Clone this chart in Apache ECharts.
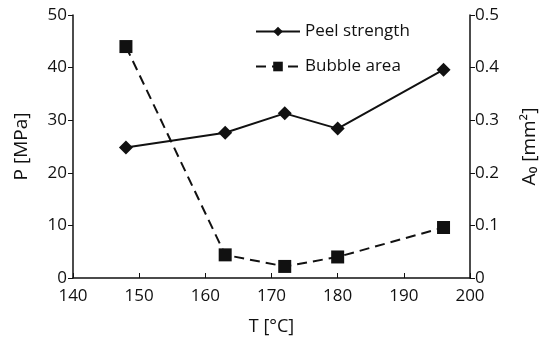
<!DOCTYPE html>
<html>
<head>
<meta charset="utf-8">
<script src="https://cdn.jsdelivr.net/npm/echarts@6/dist/echarts.min.js"></script>
<style>
  html, body { margin: 0; padding: 0; background: #fff; }
  #chart { width: 547px; height: 343px; }
</style>
</head>
<body>
<div id="chart"></div>
<script>
// temperature T [°C]
const temps = [148, 163, 172, 180, 196]
// peel strength P [MPa]
const peelStrength = [24.8, 27.6, 31.3, 28.4, 39.6]
// bubble area A0 [mm2]
const bubbleArea = [0.44, 0.044, 0.022, 0.04, 0.096]

const fontName = 'Open Sans'

const chart = echarts.init(document.getElementById('chart'))
const option = {
  backgroundColor: '#fff',
  animation: false,
  textStyle: { fontFamily: fontName, color: '#111' },
  legend: {
    orient: 'vertical',
    left: 250,
    top: 18,
    itemWidth: 44,
    itemHeight: 12,
    itemGap: 18,
    textStyle: { fontSize: 17, color: '#111', fontFamily: fontName },
    data: ['Peel strength', 'Bubble area']
  },
  grid: { left: 73, right: 77, top: 15, bottom: 65 },
  xAxis: {
    type: 'value',
    min: 140,
    max: 200,
    interval: 10,
    name: 'T [°C]',
    nameLocation: 'middle',
    nameGap: 40,
    nameTextStyle: { fontSize: 18, color: '#111' },
    axisLine: { lineStyle: { color: '#111', width: 1.5 } },
    axisTick: { inside: true, length: 5, lineStyle: { color: '#111' } },
    axisLabel: { fontSize: 17, color: '#111', margin: 10 },
    splitLine: { show: false }
  },
  yAxis: [
    {
      type: 'value',
      min: 0,
      max: 50,
      interval: 10,
      name: 'P [MPa]',
      nameLocation: 'middle',
      nameGap: 42,
      nameTextStyle: { fontSize: 19, color: '#111' },
      axisLine: { show: true, lineStyle: { color: '#111', width: 1.5 } },
      axisTick: { show: true, length: 5, lineStyle: { color: '#111' } },
      axisLabel: { fontSize: 17, color: '#111', margin: 6 },
      splitLine: { show: false }
    },
    {
      type: 'value',
      min: 0,
      max: 0.5,
      interval: 0.1,
      position: 'right',
      name: 'A₀ [mm²]',
      nameLocation: 'middle',
      nameRotate: 90,
      nameGap: 50,
      nameTextStyle: { fontSize: 19, color: '#111' },
      axisLine: { show: true, lineStyle: { color: '#111', width: 1.5 } },
      axisTick: { show: true, length: 5, lineStyle: { color: '#111' } },
      axisLabel: { fontSize: 17, color: '#111', margin: 5 },
      splitLine: { show: false }
    }
  ],
  series: [
    {
      name: 'Peel strength',
      type: 'line',
      yAxisIndex: 0,
      data: temps.map((t, i) => [t, peelStrength[i]]),
      symbol: 'diamond',
      symbolSize: 14,
      itemStyle: { color: '#111' },
      lineStyle: { color: '#111', width: 2 }
    },
    {
      name: 'Bubble area',
      type: 'line',
      yAxisIndex: 1,
      data: temps.map((t, i) => [t, bubbleArea[i]]),
      symbol: 'rect',
      symbolSize: 13,
      itemStyle: { color: '#111' },
      lineStyle: { color: '#111', width: 2, type: [10, 6] }
    }
  ]
}
chart.setOption(option)
</script>
</body>
</html>
